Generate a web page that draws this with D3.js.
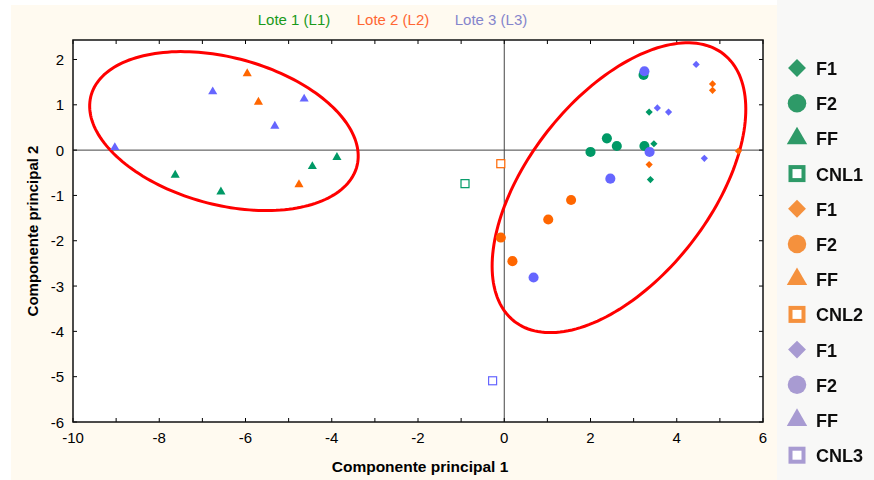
<!DOCTYPE html>
<html>
<head>
    <meta charset="utf-8">
    <title>PCA lotes</title>
    <script src="https://d3js.org/d3.v7.min.js"></script>
    <style>
        body { margin: 0; background: #fff; }
        svg { display: block; font-family: "Liberation Sans", Arial, sans-serif; }
    </style>
</head>
<body>
<svg id="chart"></svg>
<script>
    // ---- data ----
    const loteNames = ["Lote 1 (L1)", "Lote 2 (L2)", "Lote 3 (L3)"];
    const loteTextColors = ["#1a991a", "#ff6633", "#8585cc"];
    const loteColors = ["#009966", "#ff6600", "#6666ff"];
    const legendColors = ["#2f9a68", "#f5913e", "#a89bd2"];
    const tipos = ["F1", "F2", "FF", "CNL"];
    const xTicks = [-10, -8, -6, -4, -2, 0, 2, 4, 6];
    const yTicks = [-6, -5, -4, -3, -2, -1, 0, 1, 2];

    // [x, y] = (componente 1, componente 2)
    const l1F1 = [[3.36, 0.84], [3.47, 0.14], [3.39, -0.65]];
    const l1F2 = [[3.23, 1.66], [2.38, 0.26], [2.61, 0.09], [2.00, -0.04], [3.25, 0.09]];
    const l1FF = [[-3.88, -0.16], [-4.45, -0.36], [-7.63, -0.55], [-6.57, -0.92]];
    const l1CNL = [[-0.91, -0.74]];
    const l2F1 = [[4.83, 1.46], [4.83, 1.32], [5.43, -0.02], [3.36, -0.32]];
    const l2F2 = [[1.55, -1.10], [1.02, -1.53], [-0.08, -1.93], [0.19, -2.45]];
    const l2FF = [[-5.96, 1.69], [-5.70, 1.06], [-4.76, -0.76]];
    const l2CNL = [[-0.08, -0.30]];
    const l3F1 = [[4.45, 1.89], [3.55, 0.93], [3.81, 0.84], [4.64, -0.18]];
    const l3F2 = [[3.25, 1.74], [3.37, -0.04], [2.46, -0.63], [0.68, -2.81]];
    const l3FF = [[-9.03, 0.06], [-6.76, 1.29], [-5.32, 0.53], [-4.64, 1.13]];
    const l3CNL = [[-0.27, -5.09]];

    // ellipses: center x, center y, semi-axis a, semi-axis b, angle (deg)
    const ellipses = [
        [-6.50, 0.42, 3.18, 1.63, -13.7],
        [2.66, -0.83, 3.82, 2.07, 49.4]
    ];

    const series = [
        [l1F1, l1F2, l1FF, l1CNL],
        [l2F1, l2F2, l2FF, l2CNL],
        [l3F1, l3F2, l3FF, l3CNL]
    ];

    // ---- layout ----
    const W = 874, H = 480;
    const mLeft = 73, mRight = 763, mTop = 40, mBottom = 422;

    const svg = d3.select('#chart').attr('width', W).attr('height', H);

    const x = d3.scaleLinear().domain([-10, 6]).range([mLeft, mRight]);
    const y = d3.scaleLinear().domain([-6, 2.43]).range([mBottom, mTop]);

    // backgrounds
    svg.append('rect').attr('x', 11).attr('y', 5).attr('width', 766).attr('height', H - 5)
        .attr('fill', '#fffaf0');
    svg.append('rect').attr('x', 777).attr('y', 0).attr('width', W - 777).attr('height', H)
        .attr('fill', '#f8f8f7');
    svg.append('rect').attr('x', mLeft).attr('y', mTop).attr('width', mRight - mLeft).attr('height', mBottom - mTop)
        .attr('fill', '#ffffff');

    // lote labels on top
    const loteX = [294, 393, 491];
    loteNames.forEach((n, i) => {
        svg.append('text')
            .attr('x', loteX[i]).attr('y', 25)
            .attr('text-anchor', 'middle')
            .attr('font-size', '15px')
            .attr('fill', loteTextColors[i])
            .text(n);
    });

    // zero lines
    svg.append('line')
        .attr('x1', x(0)).attr('x2', x(0)).attr('y1', mTop).attr('y2', mBottom)
        .attr('stroke', '#444').attr('stroke-width', 1);
    svg.append('line')
        .attr('x1', mLeft).attr('x2', mRight).attr('y1', y(0)).attr('y2', y(0))
        .attr('stroke', '#444').attr('stroke-width', 1);

    // ticks (inside, every unit)
    const tickG = svg.append('g').attr('stroke', '#000').attr('stroke-width', 1);
    d3.range(-10, 7).forEach(v => {
        tickG.append('line').attr('x1', x(v)).attr('x2', x(v)).attr('y1', mBottom).attr('y2', mBottom - 4);
        tickG.append('line').attr('x1', x(v)).attr('x2', x(v)).attr('y1', mTop).attr('y2', mTop + 4);
    });
    yTicks.forEach(v => {
        tickG.append('line').attr('x1', mLeft).attr('x2', mLeft + 4).attr('y1', y(v)).attr('y2', y(v));
        tickG.append('line').attr('x1', mRight).attr('x2', mRight - 4).attr('y1', y(v)).attr('y2', y(v));
    });

    // tick labels
    xTicks.forEach(v => {
        svg.append('text')
            .attr('x', x(v)).attr('y', 443)
            .attr('text-anchor', 'middle')
            .attr('font-size', '15px')
            .text(v);
    });
    yTicks.forEach(v => {
        svg.append('text')
            .attr('x', 64).attr('y', y(v))
            .attr('text-anchor', 'end')
            .attr('dominant-baseline', 'central')
            .attr('font-size', '15px')
            .text(v);
    });

    // axis titles
    svg.append('text')
        .attr('x', (mLeft + mRight) / 2 + 2).attr('y', 472)
        .attr('text-anchor', 'middle')
        .attr('font-size', '15.5px').attr('font-weight', 'bold')
        .text('Componente principal 1');
    svg.append('text')
        .attr('transform', `translate(32, ${(mTop + mBottom) / 2}) rotate(-90)`)
        .attr('text-anchor', 'middle')
        .attr('dominant-baseline', 'central')
        .attr('font-size', '15px').attr('font-weight', 'bold')
        .text('Componente principal 2');

    // ellipses
    const ellipseLine = d3.line().x(d => x(d[0])).y(d => y(d[1])).curve(d3.curveLinearClosed);
    ellipses.forEach(e => {
        const [cx, cy, a, b, ang] = e;
        const th = ang * Math.PI / 180;
        const pts = d3.range(0, 2 * Math.PI, Math.PI / 90).map(t => [
            cx + a * Math.cos(t) * Math.cos(th) - b * Math.sin(t) * Math.sin(th),
            cy + a * Math.cos(t) * Math.sin(th) + b * Math.sin(t) * Math.cos(th)
        ]);
        svg.append('path')
            .attr('d', ellipseLine(pts))
            .attr('fill', 'none')
            .attr('stroke', '#ff0000')
            .attr('stroke-width', 3);
    });

    // point markers
    function drawMarker(g, tipo, px, py, color, big) {
        if (tipo === 'F1') {
            g.append('path')
                .attr('d', d3.symbol(d3.symbolSquare, big ? 160 : 26)())
                .attr('transform', `translate(${px},${py}) rotate(45)`)
                .attr('fill', color);
        } else if (tipo === 'F2') {
            g.append('path')
                .attr('d', d3.symbol(d3.symbolCircle, big ? 270 : 80)())
                .attr('transform', `translate(${px},${py})`)
                .attr('fill', color);
        } else if (tipo === 'FF') {
            g.append('path')
                .attr('d', d3.symbol(d3.symbolTriangle, big ? 180 : 36)())
                .attr('transform', `translate(${px},${py})`)
                .attr('fill', color);
        } else {
            const s = big ? 13 : 8;
            g.append('rect')
                .attr('x', px - s / 2).attr('y', py - s / 2)
                .attr('width', s).attr('height', s)
                .attr('fill', '#fff')
                .attr('stroke', color)
                .attr('stroke-width', big ? 4 : 1.2);
        }
    }

    const pointsG = svg.append('g');
    series.forEach((lote, li) => {
        lote.forEach((pts, ti) => {
            pts.forEach(p => drawMarker(pointsG, tipos[ti], x(p[0]), y(p[1]), loteColors[li], false));
        });
    });

    // frame
    svg.append('rect')
        .attr('x', mLeft).attr('y', mTop).attr('width', mRight - mLeft).attr('height', mBottom - mTop)
        .attr('fill', 'none').attr('stroke', '#111').attr('stroke-width', 1.5);

    // legend
    const defs = svg.append('defs');
    defs.append('filter').attr('id', 'soft')
        .append('feGaussianBlur').attr('stdDeviation', 0.5);
    const legG = svg.append('g').attr('filter', 'url(#soft)');
    let row = 0;
    series.forEach((lote, li) => {
        tipos.forEach((t, ti) => {
            const ly = 68 + row * 35.2;
            drawMarker(legG, t, 797, ly, legendColors[li], true);
            legG.append('text')
                .attr('x', 816).attr('y', ly + 1)
                .attr('dominant-baseline', 'central')
                .attr('font-size', '18px').attr('font-weight', 'bold')
                .attr('fill', '#111')
                .text(t === 'CNL' ? 'CNL' + (li + 1) : t);
            row++;
        });
    });
</script>
</body>
</html>
